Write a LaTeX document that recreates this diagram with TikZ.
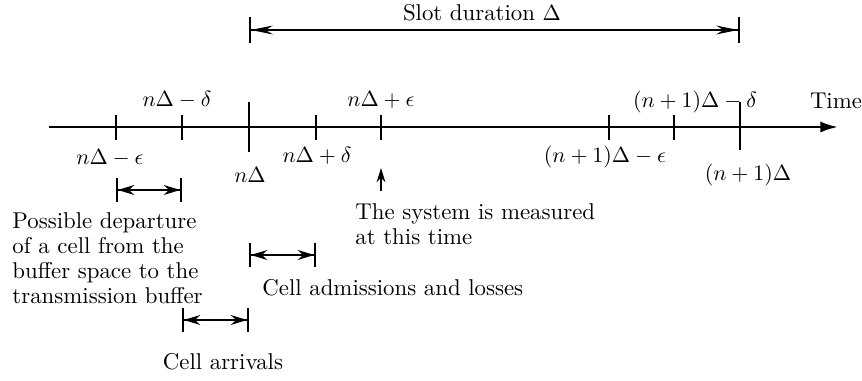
\documentclass[tikz,border=0pt]{standalone}
\usetikzlibrary{arrows.meta}

\begin{document}
\begin{tikzpicture}[
  x=0.016cm, y=-0.016cm,
  font=\fontsize{10.4pt}{11.4pt}\selectfont,
  axis/.style={draw=black, line width=1.1pt, -{Latex[length=8pt,width=5pt]}},
  tick/.style={draw=black, line width=0.8pt},
  span/.style={draw=black, line width=0.8pt,
    {Bar[width=11pt]Stealth[length=7.5pt,width=4.5pt]}-{Stealth[length=7.5pt,width=4.5pt]Bar[width=11pt]}},
  slot/.style={draw=black, line width=0.8pt,
    {Bar[width=12pt]Stealth[length=10pt,width=4pt]}-{Stealth[length=10pt,width=4pt]Bar[width=12pt]}},
  uparrow/.style={draw=black, line width=0.8pt, -{Stealth[length=6.5pt,width=4pt]}},
  txt/.style={inner sep=0pt},
  para/.style={inner sep=0pt, align=left, anchor=north west}
]
\useasboundingbox (0,0) rectangle (862,381);

% Slot duration.
\coordinate (slotA) at (249,30);
\coordinate (slotB) at (740,30);
\draw[slot] (slotA) -- (slotB);
\node[txt] (slotlbl) at (482,13) {Slot duration $\Delta$};

% Time axis.
\coordinate (start) at (49,127);
\coordinate (end) at (838,127);
\draw[axis] (start) -- (end);
\node[txt] (time) at (836,101) {Time};

% Ticks.
\foreach \nm/\x in {em/116,dm/182,dp/316,ep/381,nem/609,ndm/674}{
  \coordinate (\nm) at (\x,127);
  \draw[tick] (\nm) ++(0,-12) -- ++(0,25);
}
\coordinate (n0) at (249,127);
\coordinate (n1) at (740,127);
\draw[tick] (n0) ++(0,-25) -- ++(0,50);
\draw[tick] (n1) ++(0,-25) -- ++(0,48);

% Tick labels.
\node[txt] (ldm) at (177,100) {$n\Delta-\delta$};
\node[txt] (lep) at (381,100) {$n\Delta+\epsilon$};
\node[txt] (lndm) at (695,102) {$(n+1)\Delta-\delta$};
\node[txt] (lem) at (110,158) {$n\Delta-\epsilon$};
\node[txt] (ln0) at (250,175) {$n\Delta$};
\node[txt] (ldp) at (317,156) {$n\Delta+\delta$};
\node[txt] (lnem) at (605,157) {$(n+1)\Delta-\epsilon$};
\node[txt] (ln1) at (748,175) {$(n+1)\Delta$};

% Measurement instant.
\coordinate (measA) at (381,191);
\coordinate (measB) at (381,168);
\draw[uparrow] (measA) -- (measB);
\node[para] (meas) at (355,203) {The system is measured\\at this time};

% Intervals.
\coordinate (depA) at (116,190);
\coordinate (depB) at (182,190);
\draw[span] (depA) -- (depB);
\node[para] (dep) at (12,212)
  {Possible departure\\of a cell from the\\buffer space to the\\transmission buffer};

\coordinate (admA) at (249,255);
\coordinate (admB) at (316,255);
\draw[span] (admA) -- (admB);
\node[txt, anchor=west] (adm) at (262,288) {Cell admissions and losses};

\coordinate (arrA) at (182,320);
\coordinate (arrB) at (249,320);
\draw[span] (arrA) -- (arrB);
\node[txt] (arr) at (223,362) {Cell arrivals};

\end{tikzpicture}
\end{document}
